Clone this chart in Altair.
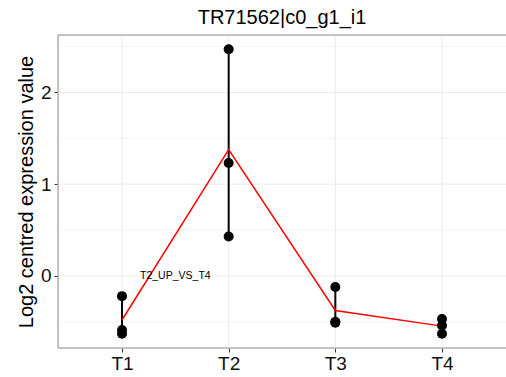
import altair as alt
import pandas as pd

categories = ["T1", "T2", "T3", "T4"]
t1_values = [-0.22, -0.59, -0.63]
t2_values = [2.47, 1.23, 0.43]
t3_values = [-0.12, -0.50, -0.51]
t4_values = [-0.47, -0.54, -0.63]
y_ticks = [0, 1, 2]
minor_grid = [-0.5, 0.5, 1.5, 2.5]
label_text = "T2_UP_VS_T4"
label_x = 1.5
label_y = 0.0
title_text = "TR71562|c0_g1_i1"
y_title = "Log2 centred expression value"

W, H = 448, 313

rows = []
for i, (cat, vals) in enumerate(zip(categories, [t1_values, t2_values, t3_values, t4_values])):
    for v in vals:
        rows.append({"cat": cat, "xi": i + 1, "value": v})
df = pd.DataFrame(rows)

ymin, ymax = df["value"].min(), df["value"].max()
pad = 0.05 * (ymax - ymin)
ydom = [ymin - pad, ymax + pad]
xdom = [0.4, len(categories) + 0.6]

xs = alt.Scale(domain=xdom, nice=False, zero=False)
ys = alt.Scale(domain=ydom, nice=False, zero=False)

label_expr = "{" + ",".join(f"'{i+1}':'{c}'" for i, c in enumerate(categories)) + "}[datum.value]"

base = alt.Chart(df)

minor = alt.Chart(pd.DataFrame({"y": minor_grid})).mark_rule(color="#F5F5F5", strokeWidth=1).encode(
    y=alt.Y("y:Q", scale=ys))
major = alt.Chart(pd.DataFrame({"y": y_ticks})).mark_rule(color="#EBEBEB", strokeWidth=1).encode(
    y=alt.Y("y:Q", scale=ys))
vgrid = alt.Chart(pd.DataFrame({"x": list(range(1, len(categories) + 1))})).mark_rule(
    color="#EBEBEB", strokeWidth=1).encode(x=alt.X("x:Q", scale=xs))

border_col = "#B3B3B3"
b_top = alt.Chart(pd.DataFrame({"a": [0]})).mark_rule(color=border_col, strokeWidth=1.5).encode(
    x=alt.value(0), x2=alt.value(W), y=alt.value(0))
b_bottom = alt.Chart(pd.DataFrame({"a": [0]})).mark_rule(color=border_col, strokeWidth=1.5).encode(
    x=alt.value(0), x2=alt.value(W), y=alt.value(H))
b_left = alt.Chart(pd.DataFrame({"a": [0]})).mark_rule(color=border_col, strokeWidth=1.5).encode(
    x=alt.value(0), y=alt.value(0), y2=alt.value(H))

rules = base.mark_rule(color="black", strokeWidth=2).encode(
    x=alt.X("xi:Q", scale=xs),
    y=alt.Y("min(value):Q", scale=ys),
    y2="max(value):Q",
)

line = base.mark_line(color="#FF0000", strokeWidth=1.5).encode(
    x=alt.X("xi:Q", scale=xs),
    y=alt.Y("mean(value):Q", scale=ys),
)

points = base.mark_circle(color="black", opacity=1, size=100).encode(
    x=alt.X("xi:Q", scale=xs,
            axis=alt.Axis(values=list(range(1, len(categories) + 1)), labelExpr=label_expr,
                          title=None, grid=False, domain=False, tickColor="#333333",
                          tickSize=4, labelFontSize=19, labelColor="#111111", labelPadding=2,
                          labelFont="Liberation Sans")),
    y=alt.Y("value:Q", scale=ys,
            axis=alt.Axis(values=y_ticks, format="d", title=y_title, grid=False, domain=False,
                          tickColor="#333333", tickSize=4, labelFontSize=19,
                          labelColor="#111111", labelPadding=3, titleFontSize=20,
                          titleFontWeight="normal", titleColor="black", titlePadding=4,
                          labelFont="Liberation Sans", titleFont="Liberation Sans")),
)

text = alt.Chart(pd.DataFrame({"x": [label_x], "y": [label_y], "t": [label_text]})).mark_text(
    fontSize=10.5, color="black", font="Liberation Sans", align="center", baseline="middle").encode(
    x=alt.X("x:Q", scale=xs), y=alt.Y("y:Q", scale=ys), text="t:N")

chart = alt.layer(minor, major, vgrid, b_top, b_bottom, b_left, rules, line, points, text).properties(
    width=W, height=H,
    title=alt.TitleParams(title_text, fontSize=20, fontWeight="normal", font="Liberation Sans",
                          color="black", anchor="middle", offset=6),
    autosize=alt.AutoSizeParams(type="none"),
    padding={"left": 58, "top": 35, "right": 0, "bottom": 29},
).configure_view(stroke=None).configure(background="white")

chart.save("out.html", embed_options={"renderer": "svg", "actions": False})
